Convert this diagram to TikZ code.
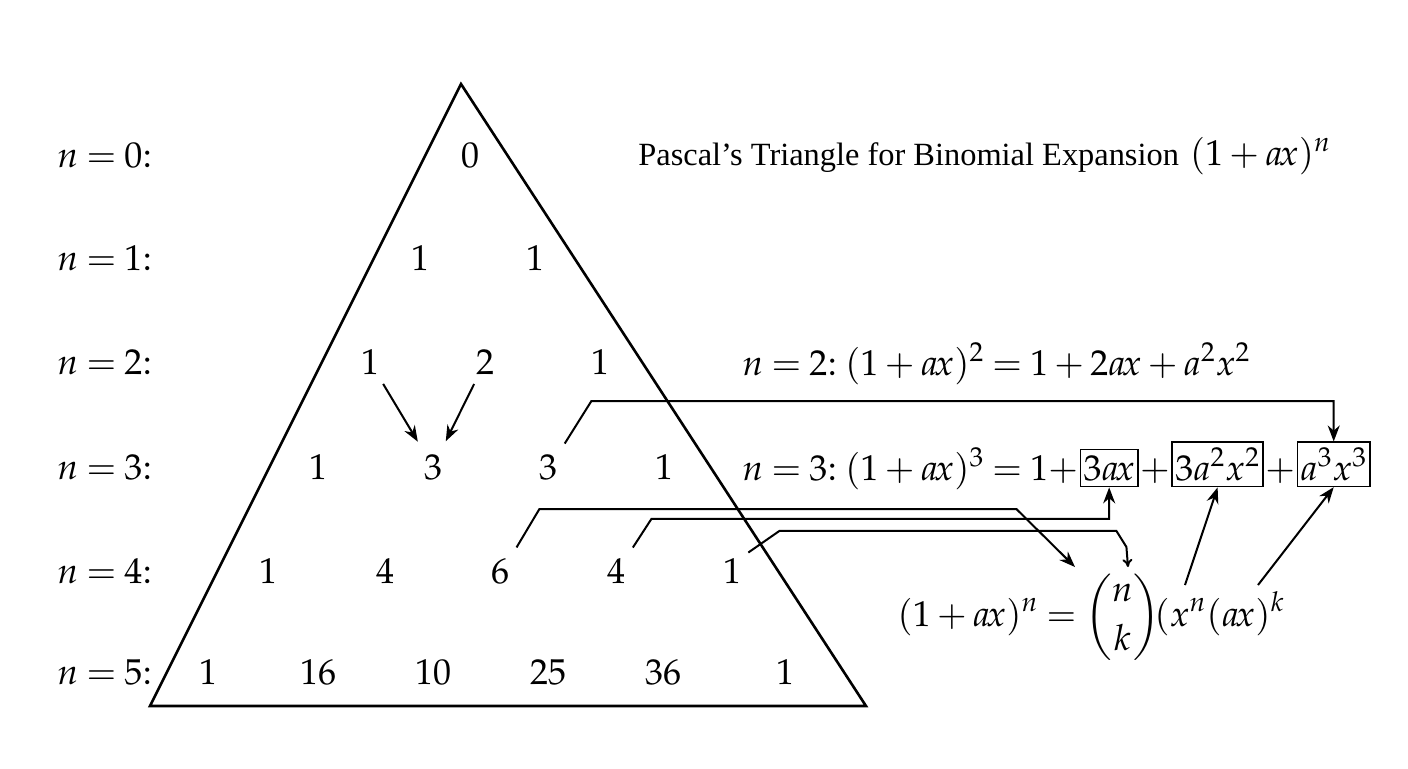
\documentclass[tikz,border=0pt]{standalone}
\usepackage[no-math]{fontspec}
\newfontfamily\titlefont{Liberation Serif}
\usepackage{amsmath}
\usepackage{mathpazo}
\usetikzlibrary{calc, positioning, arrows.meta}
\medmuskip=3mu plus 2mu minus 3mu
\thickmuskip=4mu plus 5mu
\newcommand{\axterm}{a\mkern-2mu x}

\tikzset{
  entry/.style={inner sep=1pt},
  rowlabel/.style={anchor=west, inner sep=0pt},
  termbox/.style={draw, line width=0.8pt, inner xsep=1.5pt, inner ysep=3pt},
  plain/.style={inner sep=0pt},
  link/.style={line width=1pt, -{Stealth[length=8pt, width=6pt]}},
  thinlink/.style={line width=1pt, -{To[length=4pt, width=5pt]}},
}

\begin{document}
\begin{tikzpicture}[x=0.5pt, y=-0.5pt, font=\fontsize{18}{22}\selectfont]
  \useasboundingbox (0,0) rectangle (1408,768);

  % The triangle
  \draw[line width=1.3pt] (461,84) -- (866,706) -- (150,706) -- cycle;

  % Row labels
  \foreach \r/\y in {0/155, 1/258, 2/362, 3/467, 4/571, 5/672} {
    \node[rowlabel] (lab\r) at (57,\y) {$n=\r{:}$};
  }

  % Entries of each row
  \foreach \v/\x [count=\c] in {0/470}
    \node[entry] (e0\c) at (\x,155) {$\v$};
  \foreach \v/\x [count=\c] in {1/420, 1/535}
    \node[entry] (e1\c) at (\x,258) {$\v$};
  \foreach \v/\x [count=\c] in {1/370, 2/485, 1/600}
    \node[entry] (e2\c) at (\x,362) {$\v$};
  \foreach \v/\x [count=\c] in {1/318, 3/433, 3/548, 1/664}
    \node[entry] (e3\c) at (\x,467) {$\v$};
  \foreach \v/\x [count=\c] in {1/268, 4/385, 6/500, 4/616, 1/732}
    \node[entry] (e4\c) at (\x,571) {$\v$};
  \foreach \v/\x [count=\c] in {1/208, 16/318, 10/433, 25/548, 36/663, 1/785}
    \node[entry] (e5\c) at (\x,672) {$\v$};

  % Title
  \node[plain, anchor=base west] (title) at (638,165)
    {{\fontsize{16.2}{20}\titlefont Pascal’s Triangle for Binomial Expansion} $(1+\axterm)^n$};

  % Expansions
  \node[plain, anchor=base west] (n2) at (742,375) {$n=2{:}\;(1+\axterm)^2=1+2\axterm+a^2x^2$};
  \node[plain, anchor=base west] (n3) at (742,480) {$n=3{:}\;(1+\axterm)^3=1+$};
  \node[termbox, right=0.5pt of n3.base east, anchor=base west] (tbox1) {$3\axterm$};
  \node[plain, right=0.5pt of tbox1.base east, anchor=base west] (p1) {$+$};
  \node[termbox, right=0.5pt of p1.base east, anchor=base west] (tbox2) {$3a^2x^2$};
  \node[plain, right=0.5pt of tbox2.base east, anchor=base west] (p2) {$+$};
  \node[termbox, right=0.5pt of p2.base east, anchor=base west] (tbox3) {$a^3x^3$};

  % General term
  \node[plain, anchor=base west] (gen) at (897,626)
    {$\displaystyle (1+\axterm)^n=\binom{n}{k}\!(x^n(\axterm)^k$};
  \coordinate (binl) at (1075,567);
  \coordinate (binr) at (1128,567);
  \coordinate (xn) at (1185,585);
  \coordinate (axk) at (1258,585);

  % Sum of the two entries above
  \draw[link, shorten <=4pt, shorten >=6pt] (e21) -- (e32);
  \draw[link, shorten <=4pt, shorten >=6pt] (e22) -- (e32);

  % Entries to terms
  \draw[link, shorten <=5pt] (e33.north east) -- ++(32,-51) -| (tbox3.north);
  \draw[link, shorten <=5pt] (e43.north east) -- ++(28,-47) -- ++(477,0) -- (binl);
  \draw[link, shorten <=5pt] (e44.north east) -- ++(24,-37) -| (tbox1.south);
  \draw[thinlink, shorten <=3pt] (e45.north east) -- ++(36,-25) -- ++(337,0) -- ++(10,16) -- (binr);
  \draw[link] (xn) -- (tbox2.south);
  \draw[link] (axk) -- (tbox3.south);
\end{tikzpicture}
\end{document}
